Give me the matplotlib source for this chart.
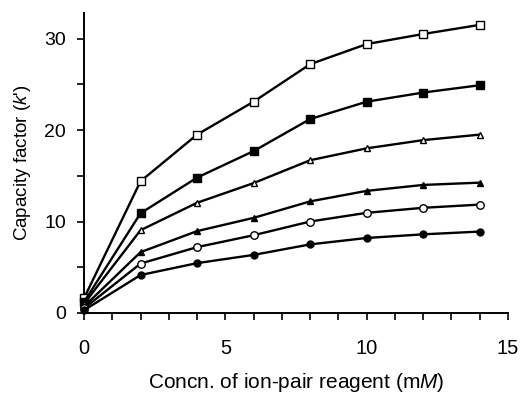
import matplotlib
matplotlib.use('Agg')
import matplotlib.pyplot as plt
from matplotlib.ticker import MultipleLocator

plt.rcParams['font.family'] = ['Liberation Sans', 'DejaVu Sans']
plt.rcParams['mathtext.fontset'] = 'custom'
plt.rcParams['mathtext.rm'] = 'Liberation Sans'
plt.rcParams['mathtext.it'] = 'Liberation Sans:italic'

# %%
conc = [0, 2, 4, 6, 8, 10, 12, 14]
k_open_sq = [1.6, 14.4, 19.5, 23.1, 27.2, 29.4, 30.5, 31.5]
k_fill_sq = [1.2, 10.9, 14.8, 17.7, 21.2, 23.1, 24.1, 24.9]
k_open_tri = [1.0, 9.05, 12.05, 14.2, 16.7, 18.0, 18.9, 19.5]
k_fill_tri = [0.7, 6.65, 8.95, 10.4, 12.2, 13.35, 14.0, 14.25]
k_open_circ = [0.5, 5.4, 7.2, 8.5, 10.0, 10.95, 11.5, 11.85]
k_fill_circ = [0.3, 4.15, 5.45, 6.35, 7.5, 8.2, 8.6, 8.9]

series = [
    (k_open_sq, 's', 'white', 5.8),
    (k_fill_sq, 's', 'black', 5.8),
    (k_open_tri, '^', 'white', 5.0),
    (k_fill_tri, '^', 'black', 5.0),
    (k_open_circ, 'o', 'white', 5.4),
    (k_fill_circ, 'o', 'black', 5.0),
]

# %%
fig = plt.figure(figsize=(5.2, 3.93), dpi=100)
ax = fig.add_axes([0.1615, 0.2036, 0.8155, 0.7634])

for vals, mk, fc, ms in series:
    ax.plot(conc, vals, color='black', lw=1.7, marker=mk, ms=ms,
            markerfacecolor=fc, markeredgecolor='black', markeredgewidth=1.0,
            clip_on=False, zorder=3)

ax.set_xlim(0, 15)
ax.set_ylim(0, 32.8)
ax.spines['top'].set_visible(False)
ax.spines['right'].set_visible(False)
ax.spines['left'].set_linewidth(1.4)
ax.spines['bottom'].set_linewidth(1.4)

ax.xaxis.set_major_locator(MultipleLocator(5))
ax.xaxis.set_minor_locator(MultipleLocator(1))
ax.yaxis.set_major_locator(MultipleLocator(10))
ax.yaxis.set_minor_locator(MultipleLocator(5))
ax.tick_params(axis='both', which='both', direction='out', length=5, width=1.2)
ax.tick_params(axis='x', which='major', pad=14, labelsize=14.5)
ax.tick_params(axis='y', which='major', pad=8, labelsize=14)

ax.set_xlabel('Concn. of ion-pair reagent (m$\\it{M}$)', fontsize=15, va='center')
ax.xaxis.set_label_coords(0.5, -0.232)
ax.set_ylabel("Capacity factor ($\\it{k}$')", fontsize=13.5, va='center')
ax.yaxis.set_label_coords(-0.146, 0.5)

fig.savefig('out.png', dpi=100)
